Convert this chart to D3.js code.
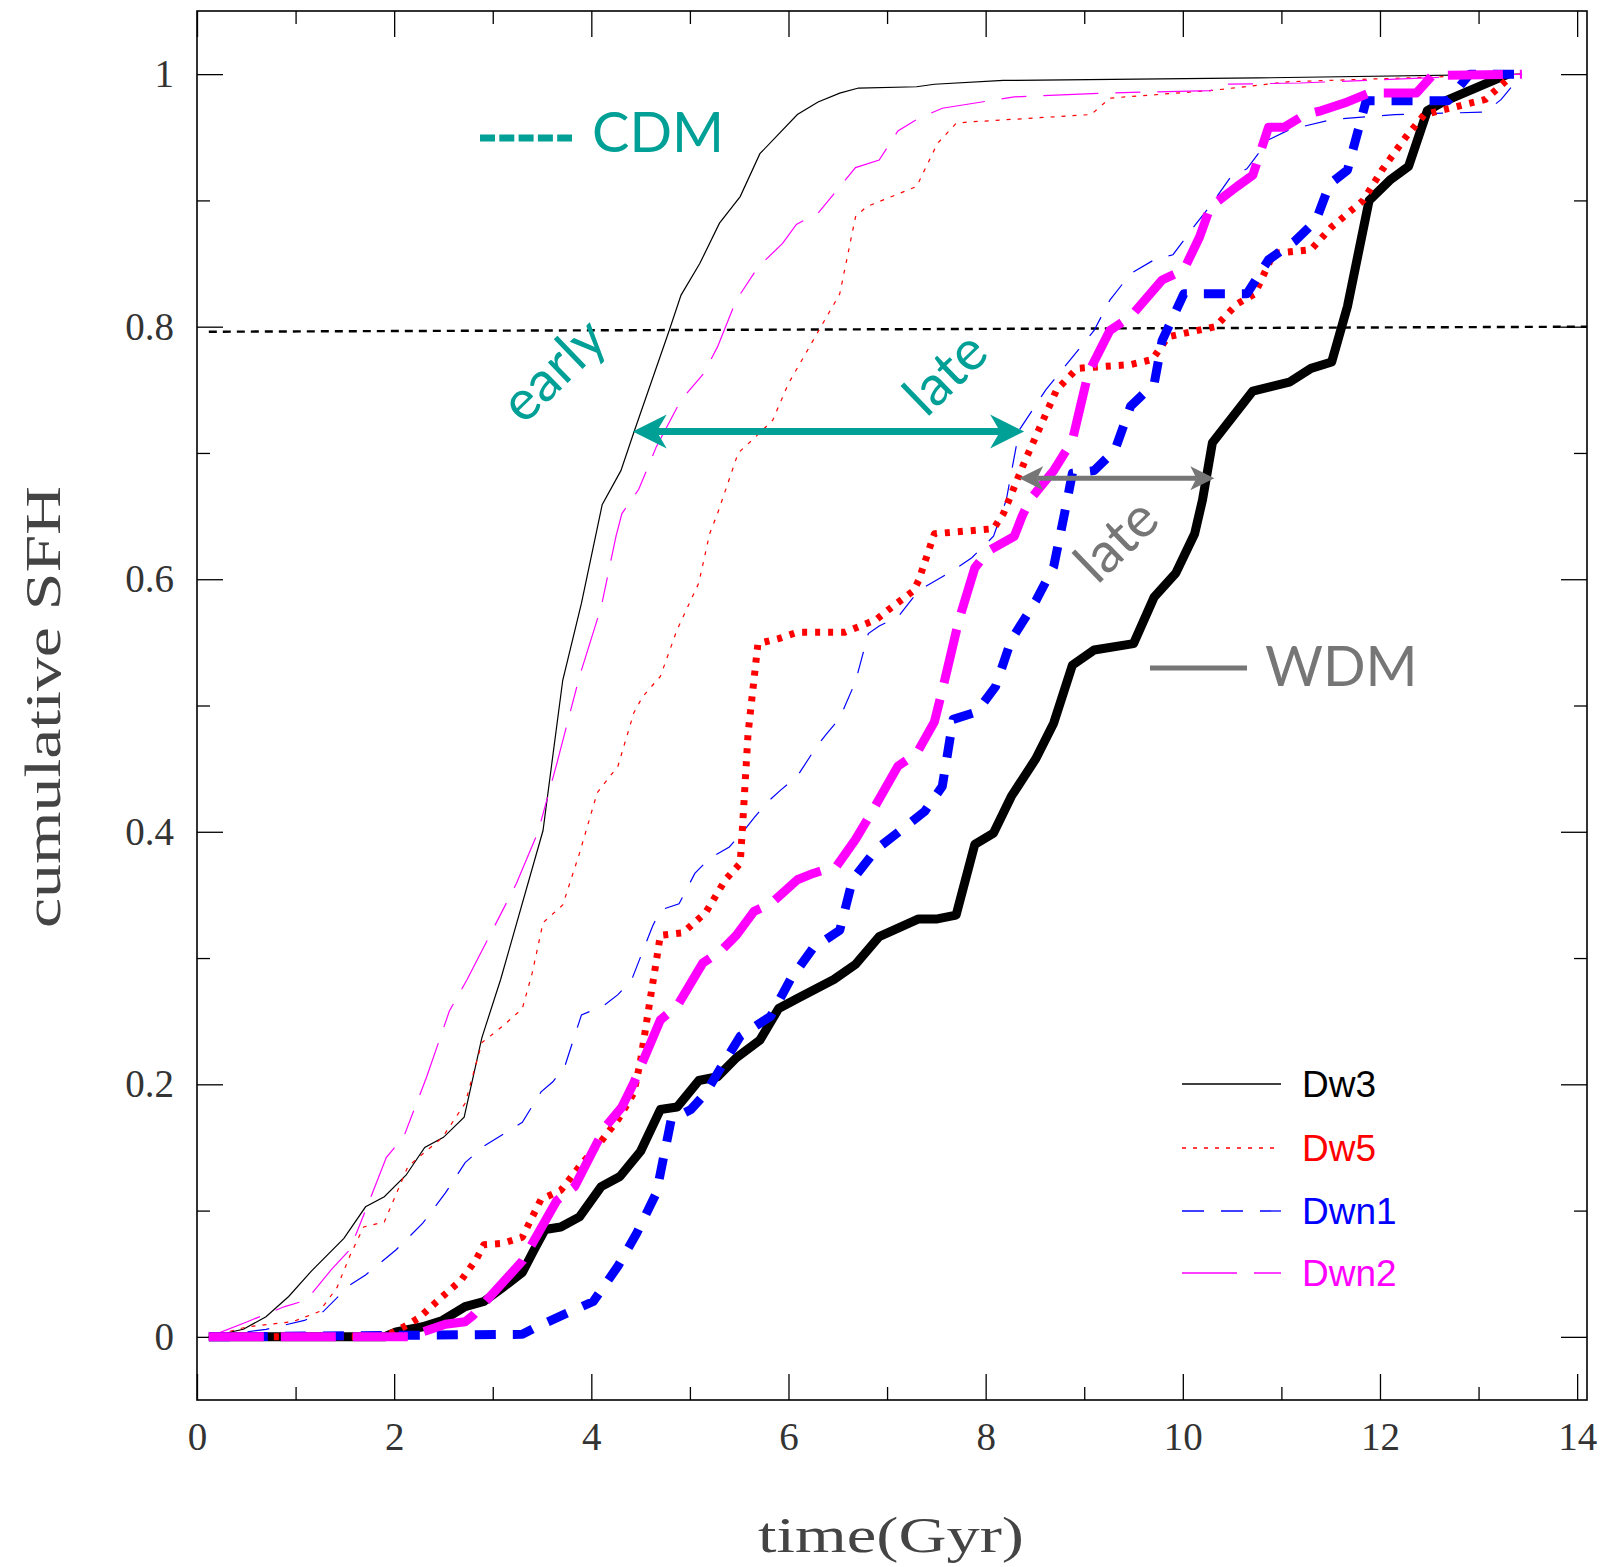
<!DOCTYPE html>
<html>
<head>
<meta charset="utf-8">
<script src="https://cdn.jsdelivr.net/npm/d3@7"></script>
<style>
  body { margin: 0; background: #fff; }
  svg { display: block; }
</style>
</head>
<body>
<div id="chart"></div>
<script>
// cumulative SFH, thin = CDM runs, thick = WDM runs
var dw3CdmT = [0.12,0.47,0.70,0.93,1.16,1.49,1.71,1.90,2.12,2.31,2.50,2.71,2.89,3.08,3.51,3.71,3.90,4.11,4.30,4.43,4.79,4.91,5.10,5.30,5.51,5.71,6.09,6.30,6.52,6.71,7.30,7.48,8.18,10.76,13.44];
var dw3CdmV = [0,0.006,0.016,0.032,0.052,0.078,0.103,0.111,0.128,0.150,0.158,0.174,0.237,0.283,0.401,0.520,0.581,0.659,0.686,0.716,0.797,0.825,0.850,0.882,0.903,0.937,0.968,0.978,0.985,0.989,0.990,0.992,0.995,0.997,1.0];

var dw5CdmT = [0.12,0.51,0.97,1.24,1.42,1.55,1.69,1.90,2.14,2.49,2.72,2.89,3.10,3.30,3.40,3.51,3.71,3.88,4.06,4.27,4.43,4.52,4.70,4.87,5.09,5.20,5.28,5.49,5.67,5.84,6.00,6.52,6.68,6.79,6.95,7.30,7.51,7.70,7.81,9.07,9.26,10.28,11.08,13.44];
var dw5CdmV = [0,0.008,0.012,0.020,0.039,0.064,0.087,0.091,0.135,0.158,0.185,0.233,0.246,0.260,0.288,0.328,0.342,0.383,0.431,0.452,0.494,0.507,0.523,0.560,0.597,0.636,0.652,0.700,0.713,0.726,0.755,0.826,0.887,0.895,0.900,0.911,0.945,0.961,0.962,0.968,0.981,0.987,0.994,1.0];

var dwn1CdmT = [0.12,0.70,1.09,1.28,1.55,1.71,2.02,2.29,2.52,2.72,2.91,3.30,3.49,3.61,3.73,3.90,4.12,4.27,4.41,4.62,4.70,4.89,5.05,5.20,5.40,5.55,5.65,5.78,5.92,6.09,6.28,6.38,6.52,6.68,6.81,6.92,7.11,7.32,7.65,7.86,8.08,8.21,8.34,8.61,9.10,9.26,9.47,9.71,9.90,10.12,10.30,10.49,10.65,10.87,11.08,11.51,12.15,13.07,13.23,13.44];
var dwn1CdmV = [0,0.006,0.013,0.020,0.041,0.049,0.069,0.090,0.114,0.138,0.151,0.170,0.194,0.202,0.214,0.255,0.262,0.271,0.283,0.325,0.338,0.343,0.367,0.379,0.388,0.401,0.411,0.423,0.433,0.444,0.467,0.477,0.490,0.519,0.557,0.563,0.570,0.591,0.606,0.617,0.634,0.663,0.718,0.750,0.797,0.821,0.842,0.853,0.857,0.880,0.898,0.919,0.925,0.948,0.956,0.964,0.968,0.970,0.980,1.0];

var dwn2CdmT = [0.12,0.51,0.89,1.11,1.36,1.55,1.75,1.92,2.10,2.33,2.56,2.74,3.24,3.46,3.65,3.88,4.10,4.25,4.31,4.48,4.66,4.91,5.14,5.28,5.47,5.69,5.94,6.08,6.30,6.68,6.92,7.11,7.32,7.56,8.29,9.20,10.28,10.44,11.19,13.44];
var dwn2CdmV = [0,0.012,0.024,0.029,0.053,0.069,0.108,0.142,0.159,0.206,0.258,0.283,0.359,0.400,0.454,0.523,0.578,0.634,0.652,0.671,0.705,0.742,0.763,0.784,0.821,0.847,0.866,0.881,0.890,0.926,0.932,0.955,0.965,0.973,0.982,0.985,0.987,0.992,0.993,1.0];

var dw3WdmT = [0.12,1.90,2.02,2.29,2.49,2.72,2.91,3.10,3.30,3.42,3.53,3.69,3.88,4.10,4.29,4.50,4.70,4.87,5.09,5.28,5.47,5.71,5.90,6.09,6.46,6.68,6.92,7.32,7.51,7.70,7.89,8.08,8.26,8.51,8.69,8.88,9.10,9.50,9.71,9.93,10.12,10.20,10.30,10.71,11.08,11.30,11.51,11.67,11.89,12.10,12.29,12.48,12.64,13.30];
var dw3WdmV = [0,0,0.004,0.008,0.013,0.024,0.028,0.039,0.051,0.069,0.085,0.087,0.095,0.119,0.127,0.147,0.180,0.182,0.203,0.206,0.221,0.235,0.260,0.268,0.283,0.295,0.317,0.331,0.331,0.334,0.390,0.399,0.428,0.458,0.486,0.532,0.544,0.549,0.586,0.605,0.636,0.663,0.708,0.749,0.756,0.767,0.772,0.816,0.900,0.916,0.927,0.971,0.978,1.0];

var dw5WdmT = [0.12,1.90,2.10,2.25,2.49,2.68,2.83,2.91,3.10,3.30,3.49,3.69,3.88,4.08,4.27,4.43,4.50,4.58,4.66,4.70,4.93,5.16,5.36,5.51,5.53,5.59,5.69,5.90,6.09,6.57,6.89,7.05,7.27,7.32,7.48,8.08,8.18,8.40,8.72,8.93,9.47,9.69,9.85,10.33,10.55,10.73,10.92,11.30,11.51,11.83,12.02,12.26,12.45,13.07,13.34];
var dw5WdmV = [0,0,0.008,0.015,0.032,0.045,0.061,0.073,0.074,0.079,0.109,0.116,0.135,0.153,0.172,0.193,0.219,0.259,0.298,0.318,0.320,0.336,0.362,0.375,0.399,0.478,0.549,0.553,0.558,0.558,0.568,0.578,0.591,0.599,0.636,0.640,0.652,0.694,0.750,0.767,0.770,0.774,0.792,0.800,0.818,0.826,0.858,0.861,0.879,0.900,0.924,0.950,0.968,0.980,0.999];

var dwn1WdmT = [0.12,3.30,3.45,3.73,4.02,4.27,4.46,4.66,4.81,5.01,5.16,5.32,5.51,5.82,6.02,6.25,6.52,6.65,6.89,7.38,7.56,7.67,7.91,8.10,8.26,8.51,8.69,8.80,8.88,9.10,9.31,9.47,9.71,9.79,10.01,10.65,10.87,11.14,11.35,11.49,11.67,11.86,12.69,12.91,13.44];
var dwn1WdmV = [0,0.002,0.008,0.018,0.028,0.056,0.082,0.114,0.172,0.180,0.193,0.214,0.238,0.254,0.283,0.308,0.322,0.362,0.386,0.416,0.436,0.489,0.495,0.515,0.552,0.583,0.610,0.652,0.684,0.686,0.702,0.737,0.755,0.789,0.826,0.826,0.853,0.868,0.884,0.913,0.924,0.979,0.979,1.0,1.0];

var dwn2WdmT = [0.12,2.14,2.52,2.72,2.80,3.30,3.38,3.65,3.83,4.04,4.15,4.31,4.43,4.50,4.70,4.87,4.97,5.13,5.32,5.47,5.65,5.82,6.09,6.25,6.49,6.68,6.84,7.11,7.30,7.48,7.56,7.73,7.89,8.02,8.29,8.37,8.45,8.69,8.88,9.04,9.26,9.47,9.79,10.01,10.17,10.28,10.55,10.71,10.87,11.03,11.24,11.40,11.67,11.89,12.37,12.53,13.44];
var dwn2WdmV = [0,0,0.010,0.012,0.017,0.060,0.071,0.108,0.119,0.151,0.167,0.182,0.201,0.214,0.251,0.262,0.275,0.296,0.306,0.318,0.337,0.343,0.362,0.367,0.373,0.394,0.415,0.452,0.462,0.487,0.512,0.568,0.609,0.622,0.634,0.650,0.663,0.686,0.710,0.763,0.797,0.808,0.837,0.845,0.871,0.895,0.911,0.920,0.958,0.958,0.968,0.971,0.978,0.985,0.985,0.999,1.0];

// 80% reference line (slightly tilted in the original)
var refLineT = [0.12, 14.1];
var refLineV = [0.796, 0.800];

var xMajor = [0,2,4,6,8,10,12,14];
var xMinor = [1,3,5,7,9,11,13];
var yMajor = [0,0.2,0.4,0.6,0.8,1];
var yMinor = [0.1,0.3,0.5,0.7,0.9];

var legendNames = ["Dw3", "Dw5", "Dwn1", "Dwn2"];

// annotation arrows: [x start, x end, y]
var cdmArrow = [4.42, 8.39, 0.717];
var wdmArrow = [8.34, 10.32, 0.680];

var width = 1606, height = 1567;
var teal = "#00a096", grey = "#767676";

var svg = d3.select("#chart").append("svg")
    .attr("width", width)
    .attr("height", height);

var x = d3.scaleLinear().domain([0, 14.1]).range([197, 1587]);
var y = d3.scaleLinear().domain([-0.05, 1.05]).range([1400, 11]);

function zip(ts, vs) {
    return ts.map((t, i) => ({t: t, v: vs[i]}));
}

// series styles, one per name in legend order
var styles = [
    {color: "#000000", thin: null,          thick: null},
    {color: "#ff0000", thin: "4,7",         thick: "5,8"},
    {color: "#0000ff", thin: "22,17",       thick: "21,17"},
    {color: "#ff00ff", thin: "55,17,25,17", thick: "55,17"}
];
var cdmData = [zip(dw3CdmT, dw3CdmV), zip(dw5CdmT, dw5CdmV), zip(dwn1CdmT, dwn1CdmV), zip(dwn2CdmT, dwn2CdmV)];
var wdmData = [zip(dw3WdmT, dw3WdmV), zip(dw5WdmT, dw5WdmV), zip(dwn1WdmT, dwn1WdmV), zip(dwn2WdmT, dwn2WdmV)];

var line = d3.line().x(d => x(d.t)).y(d => y(d.v));

// ---- axes (ticks point inwards on all four sides)
function ticksOnly(axis, vals, size) {
    return axis.tickValues(vals).tickSize(-size).tickFormat("");
}
var fmtY = d => String(+d.toFixed(1));

svg.append("g").attr("transform", "translate(0,1400)")
    .call(d3.axisBottom(x).tickValues(xMajor).tickSize(-26).tickPadding(22).tickFormat(d3.format("d")));
svg.append("g").attr("transform", "translate(0,1400)").call(ticksOnly(d3.axisBottom(x), xMinor, 13));
svg.append("g").attr("transform", "translate(0,11)").call(ticksOnly(d3.axisTop(x), xMajor, 26));
svg.append("g").attr("transform", "translate(0,11)").call(ticksOnly(d3.axisTop(x), xMinor, 13));

svg.append("g").attr("transform", "translate(197,0)")
    .call(d3.axisLeft(y).tickValues(yMajor).tickSize(-26).tickPadding(23).tickFormat(fmtY));
svg.append("g").attr("transform", "translate(197,0)").call(ticksOnly(d3.axisLeft(y), yMinor, 13));
svg.append("g").attr("transform", "translate(1587,0)").call(ticksOnly(d3.axisRight(y), yMajor, 26));
svg.append("g").attr("transform", "translate(1587,0)").call(ticksOnly(d3.axisRight(y), yMinor, 13));

svg.selectAll(".domain").remove();
svg.selectAll(".tick line").attr("stroke", "#000").attr("stroke-width", 1.3);
svg.selectAll(".tick text")
    .attr("font-family", "'Liberation Serif', serif")
    .attr("font-size", 39)
    .attr("fill", "#333");

svg.append("rect")
    .attr("x", x(0)).attr("y", y(1.05))
    .attr("width", x(14.1) - x(0)).attr("height", y(-0.05) - y(1.05))
    .attr("fill", "none").attr("stroke", "#000").attr("stroke-width", 1.6);

// axis titles
svg.append("text")
    .attr("transform", "translate(60,707) rotate(-90)")
    .attr("text-anchor", "middle")
    .attr("font-family", "'Liberation Serif', serif")
    .attr("font-size", 50)
    .attr("textLength", 442).attr("lengthAdjust", "spacingAndGlyphs")
    .attr("fill", "#444")
    .text("cumulative SFH");

svg.append("text")
    .attr("x", 891).attr("y", 1552)
    .attr("text-anchor", "middle")
    .attr("font-family", "'Liberation Serif', serif")
    .attr("font-size", 50)
    .attr("textLength", 266).attr("lengthAdjust", "spacingAndGlyphs")
    .attr("fill", "#444")
    .text("time(Gyr)");

// ---- 80% line
svg.append("path")
    .datum(zip(refLineT, refLineV))
    .attr("d", line)
    .attr("fill", "none").attr("stroke", "#000")
    .attr("stroke-width", 2.4).attr("stroke-dasharray", "8,6");

// ---- curves: thin CDM first, thick WDM on top (black, red, blue, magenta)
var plot = svg.append("g");
cdmData.forEach((d, i) => {
    plot.append("path").datum(d).attr("d", line)
        .attr("fill", "none")
        .attr("stroke", styles[i].color)
        .attr("stroke-width", 1.2)
        .attr("stroke-dasharray", styles[i].thin);
});
wdmData.forEach((d, i) => {
    plot.append("path").datum(d).attr("d", line)
        .attr("fill", "none")
        .attr("stroke", styles[i].color)
        .attr("stroke-width", i == 1 ? 7 : 9)
        .attr("stroke-linejoin", "round")
        .attr("stroke-dasharray", styles[i].thick);
});

// ---- double arrows
function doubleArrow(a, color, w, len, half, notch) {
    var g = svg.append("g");
    var x1 = x(a[0]), x2 = x(a[1]), yy = y(a[2]);
    g.append("line")
        .attr("x1", x1 + len - notch).attr("x2", x2 - len + notch)
        .attr("y1", yy).attr("y2", yy)
        .attr("stroke", color).attr("stroke-width", w);
    [[x1, 1], [x2, -1]].forEach(p => {
        var tip = p[0], s = p[1];
        g.append("path")
            .attr("d", "M" + tip + "," + yy +
                "L" + (tip + s * len) + "," + (yy - half) +
                "L" + (tip + s * (len - notch)) + "," + yy +
                "L" + (tip + s * len) + "," + (yy + half) + "Z")
            .attr("fill", color);
    });
}
doubleArrow(cdmArrow, teal, 7, 34, 17, 10);
doubleArrow(wdmArrow, grey, 5, 24, 12, 6);

// ---- annotation text
var annFont = "Lato, 'Open Sans', sans-serif";
function label(txt, cx, cy, rot, color) {
    svg.append("text")
        .attr("transform", "translate(" + cx + "," + cy + ") rotate(" + rot + ")")
        .attr("text-anchor", "middle")
        .attr("dy", "0.35em")
        .attr("font-family", annFont)
        .attr("font-size", 56)
        .attr("fill", color)
        .text(txt);
}
label("early", 553, 370, -44, teal);
label("late", 945, 373, -44, teal);
label("late", 1116, 540, -44, grey);

svg.append("line")
    .attr("x1", 480).attr("x2", 572).attr("y1", 138).attr("y2", 138)
    .attr("stroke", teal).attr("stroke-width", 7).attr("stroke-dasharray", "15,4.3");
svg.append("text")
    .attr("x", 592).attr("y", 152)
    .attr("font-family", annFont).attr("font-size", 56)
    .attr("fill", teal).text("CDM");

svg.append("line")
    .attr("x1", 1150).attr("x2", 1247).attr("y1", 668).attr("y2", 668)
    .attr("stroke", grey).attr("stroke-width", 5);
svg.append("text")
    .attr("x", 1265).attr("y", 686)
    .attr("font-family", annFont).attr("font-size", 56)
    .attr("fill", grey).text("WDM");

// ---- legend (thin line styles)
var legendY = [1084, 1148, 1211, 1273];
var legend = svg.append("g");
legendNames.forEach((name, i) => {
    legend.append("line")
        .attr("x1", 1182).attr("x2", 1281)
        .attr("y1", legendY[i]).attr("y2", legendY[i])
        .attr("stroke", styles[i].color)
        .attr("stroke-width", 1.3)
        .attr("stroke-dasharray", i == 3 ? "55,17,27" : styles[i].thin);
    legend.append("text")
        .attr("x", 1302).attr("y", legendY[i] + 13)
        .attr("font-family", "'Liberation Sans', Arial, sans-serif")
        .attr("font-size", 37)
        .attr("fill", styles[i].color)
        .text(name);
});
</script>
</body>
</html>
